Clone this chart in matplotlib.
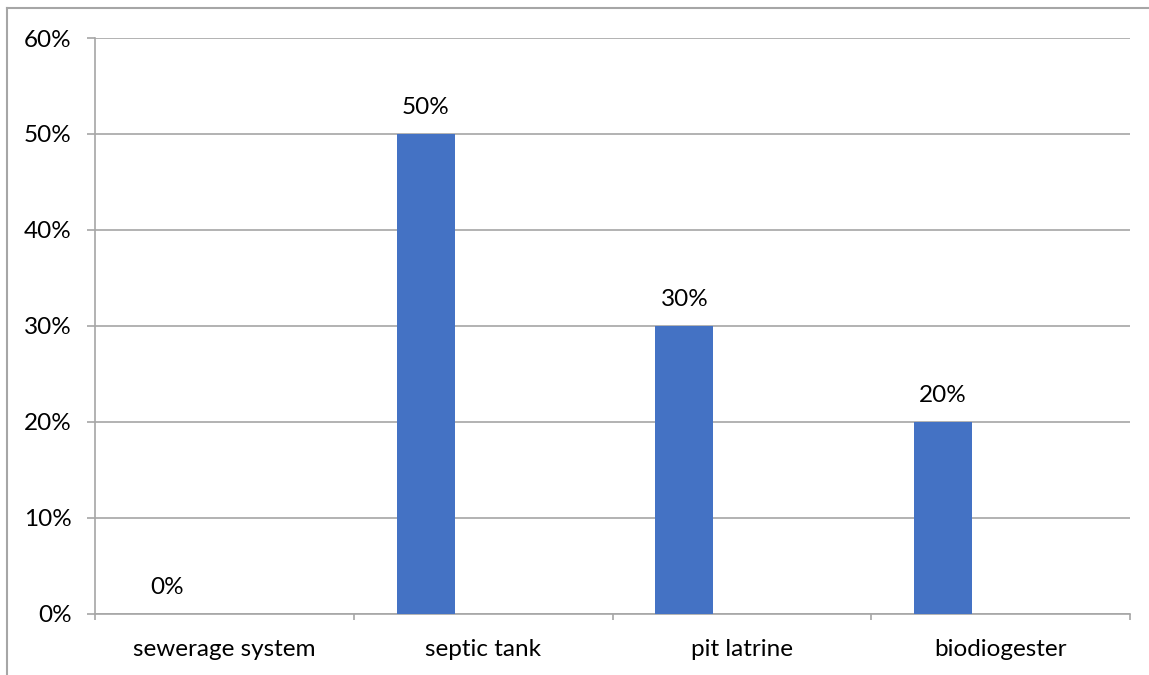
import matplotlib.pyplot as plt
from matplotlib.lines import Line2D
from matplotlib.ticker import PercentFormatter

categories = ["sewerage system", "septic tank", "pit latrine", "biodiogester"]
shares = [0, 50, 30, 20]

plt.rcParams['font.family'] = ['Lato', 'DejaVu Sans']

fig = plt.figure(figsize=(11.49, 6.75), dpi=100)
ax = fig.add_axes([0.0827, 0.0904, 0.9008, 0.8533])

grey = '#a6a6a6'
x = range(len(categories))
bar_x = [i - 0.222 for i in x]
bars = ax.bar(bar_x, shares, width=0.224, color='#4472c4', zorder=3)

for bx, v in zip(bar_x, shares):
    ax.annotate(f"{v}%", (bx, v), xytext=(0, 19), textcoords='offset points',
                ha='center', va='center', fontsize=17.5, color='#000000')

ax.set_xlim(-0.5, len(categories) - 0.5)
ax.set_ylim(0, 60)
ax.set_yticks(range(0, 61, 10))
ax.yaxis.set_major_formatter(PercentFormatter(decimals=0))
ax.grid(axis='y', color=grey, linewidth=1.2, zorder=0)

ax.set_xticks([i + 0.5 for i in range(-1, len(categories))])
ax.set_xticklabels([])
ax.set_xticks(list(x), minor=True)
ax.set_xticklabels(categories, minor=True)
ax.tick_params(axis='x', which='minor', length=0, pad=18, labelsize=17.5)
ax.tick_params(axis='x', which='major', length=4.5, color=grey, width=1.2)
ax.tick_params(axis='y', length=6, color=grey, width=1.2, pad=11, labelsize=17.5)

for side in ['top', 'right']:
    ax.spines[side].set_visible(False)
for side in ['left', 'bottom']:
    ax.spines[side].set_color(grey)
    ax.spines[side].set_linewidth(1.2)

# outer chart border (only left and top edges visible)
fig.add_artist(Line2D([7 / 1149, 7 / 1149], [0, 1 - 8 / 675], color=grey, linewidth=1.5))
fig.add_artist(Line2D([7 / 1149, 1], [1 - 8 / 675, 1 - 8 / 675], color=grey, linewidth=1.5))

fig.savefig("out.png", dpi=100)
